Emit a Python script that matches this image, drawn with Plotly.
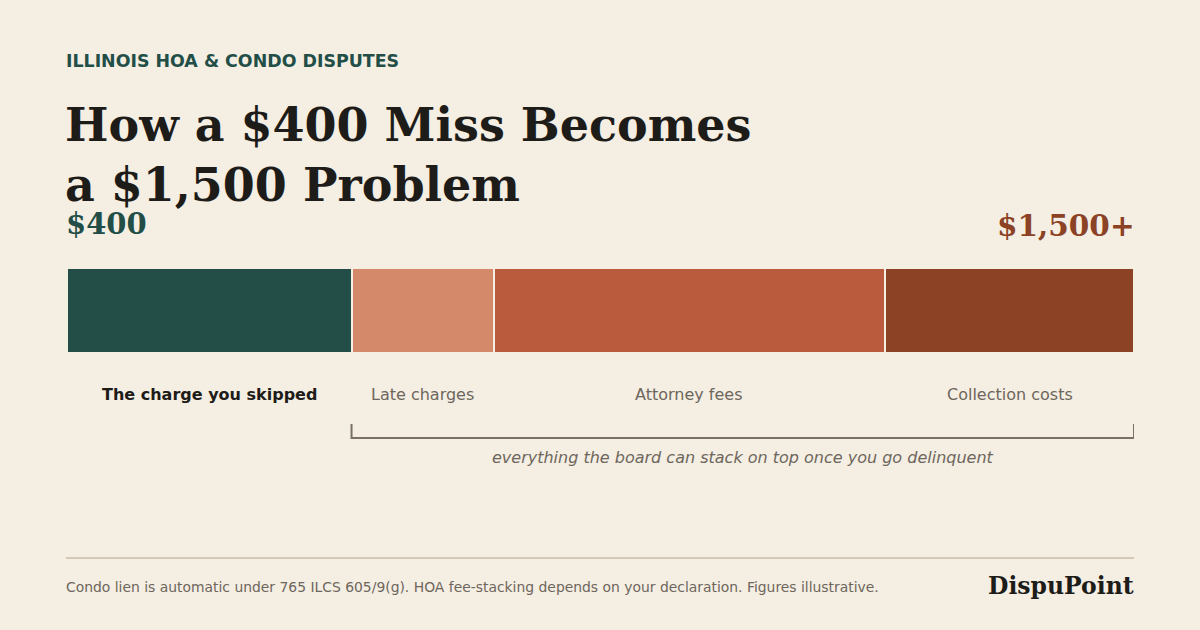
import plotly.graph_objects as go

W, H = 1200, 630
categories = ["The charge you skipped", "Late charges", "Attorney fees", "Collection costs"]
values = [400, 200, 550, 350]
colors = ["#224E47", "#D4896B", "#B95B3C", "#8B4225"]
start_label = "$400"
end_label = "$1,500+"

BG = "#F4EEE3"
DARK = "#1E1C18"
GRAY = "#6E665C"
GREEN = "#224E47"
BROWN = "#8B4225"

def py(p):
    return 1 - p / H

def px(p):
    return p / W

fig = go.Figure()
for cat, v, c in zip(categories, values, colors):
    fig.add_trace(go.Bar(
        x=[v], y=[0], orientation="h", width=1, name=cat,
        marker=dict(color=c, line=dict(color=BG, width=2)),
        hoverinfo="skip", showlegend=False,
    ))

total = sum(values)
x0 = px(67)
x1 = px(1134)
fig.update_layout(
    barmode="stack",
    width=W, height=H,
    margin=dict(l=0, r=0, t=0, b=0),
    paper_bgcolor=BG, plot_bgcolor=BG,
    xaxis=dict(domain=[x0, x1], range=[0, total], visible=False, fixedrange=True),
    yaxis=dict(domain=[py(353), py(268)], range=[-0.5, 0.5], visible=False, fixedrange=True),
    font=dict(family="DejaVu Sans"),
)

ann = []
ann.append(dict(text="<b>ILLINOIS HOA & CONDO DISPUTES</b>", x=px(64), y=py(61), xref="paper", yref="paper",
                xanchor="left", yanchor="middle", showarrow=False,
                font=dict(family="DejaVu Sans", size=17.4, color=GREEN)))
ann.append(dict(text="<b>How a $400 Miss Becomes<br>a $1,500 Problem</b>", x=px(63), y=py(155), xref="paper", yref="paper",
                xanchor="left", yanchor="middle", align="left", showarrow=False,
                font=dict(family="DejaVu Serif", size=46, color=DARK)))
ann.append(dict(text=f"<b>{start_label}</b>", x=px(64), y=py(224), xref="paper", yref="paper",
                xanchor="left", yanchor="middle", showarrow=False,
                font=dict(family="DejaVu Serif", size=29, color=GREEN)))
ann.append(dict(text=f"<b>{end_label}</b>", x=px(1137), y=py(225), xref="paper", yref="paper",
                xanchor="right", yanchor="middle", showarrow=False,
                font=dict(family="DejaVu Serif", size=29.5, color=BROWN)))

cum = 0
for i, (cat, v) in enumerate(zip(categories, values)):
    mid = cum + v / 2
    cum += v
    if i == 0:
        txt, col = f"<b>{cat}</b>", DARK
    else:
        txt, col = cat, GRAY
    ann.append(dict(text=txt, x=mid, y=py(394), xref="x", yref="paper",
                    xanchor="center", yanchor="middle", showarrow=False,
                    font=dict(family="DejaVu Sans", size=16, color=col)))

ann.append(dict(text="<i>everything the board can stack on top once you go delinquent</i>",
                x=(values[0] + total) / 2, y=py(457), xref="x", yref="paper",
                xanchor="center", yanchor="middle", showarrow=False,
                font=dict(family="DejaVu Sans", size=16, color=GRAY)))

ann.append(dict(text="Condo lien is automatic under 765 ILCS 605/9(g). HOA fee-stacking depends on your declaration. Figures illustrative.",
                x=px(64), y=py(587), xref="paper", yref="paper",
                xanchor="left", yanchor="middle", showarrow=False,
                font=dict(family="DejaVu Sans", size=13.9, color=GRAY)))
ann.append(dict(text="<b>DispuPoint</b>", x=px(1136), y=py(586), xref="paper", yref="paper",
                xanchor="right", yanchor="middle", showarrow=False,
                font=dict(family="DejaVu Serif", size=23.5, color=DARK)))
fig.update_layout(annotations=ann)

shapes = []
# bracket
shapes.append(dict(type="path", xref="x", yref="paper",
                   path=f"M {values[0]},{py(424)} L {values[0]},{py(438)} L {total},{py(438)} L {total},{py(424)}",
                   line=dict(color="#7A7064", width=2)))
# footer divider
shapes.append(dict(type="line", xref="paper", yref="paper", x0=px(66), x1=px(1134), y0=py(558), y1=py(558),
                   line=dict(color="#D5C9B5", width=2)))
fig.update_layout(shapes=shapes)

fig.write_html("out.html")
